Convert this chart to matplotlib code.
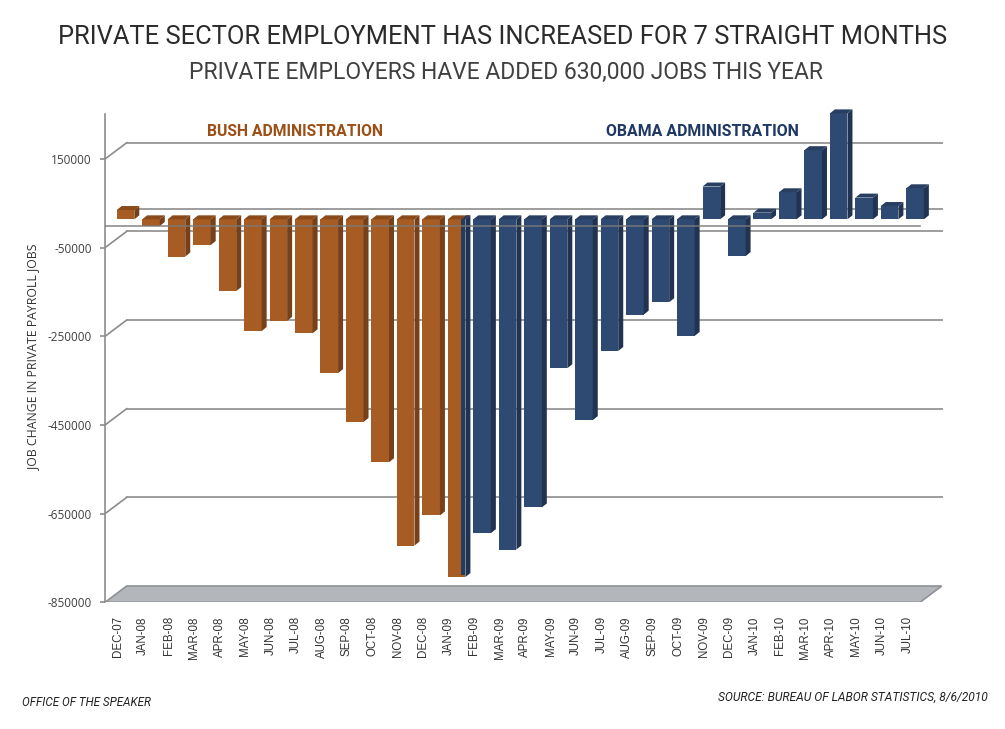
import matplotlib
matplotlib.use("Agg")
import matplotlib.pyplot as plt
from matplotlib.patches import Polygon
import numpy as np

# data (thousands of jobs)
months = ['DEC-07', 'JAN-08', 'FEB-08', 'MAR-08', 'APR-08', 'MAY-08', 'JUN-08', 'JUL-08',
          'AUG-08', 'SEP-08', 'OCT-08', 'NOV-08', 'DEC-08', 'JAN-09', 'FEB-09', 'MAR-09',
          'APR-09', 'MAY-09', 'JUN-09', 'JUL-09', 'AUG-09', 'SEP-09', 'OCT-09', 'NOV-09',
          'DEC-09', 'JAN-10', 'FEB-10', 'MAR-10', 'APR-10', 'MAY-10', 'JUN-10', 'JUL-10']
bush_values = [21, -15, -84, -58, -162, -252, -229, -257, -347, -457, -548, -736, -668, -807]
obama_values = [-708, -745, -650, -336, -453, -297, -215, -187, -263, 74, -83,
                15, 61, 156, 239, 49, 30, 70]
yticks = [150000, -50000, -250000, -450000, -650000, -850000]

W, H = 1005, 729
fig = plt.figure(figsize=(W / 100, H / 100), dpi=100)

# plot area in pixels (front plane)
left_px, right_px, top_px, bot_px = 105, 942.7, 114, 602.3
px_x = 25.47      # pixels per category
px_y = 2256.0     # jobs per pixel
ymin = -850000
ymax = ymin + (bot_px - top_px) * px_y
xmin = -0.5
xmax = xmin + (right_px - left_px) / px_x

ax = fig.add_axes([left_px / W, 1 - bot_px / H, (right_px - left_px) / W, (bot_px - top_px) / H])
ax.set_xlim(xmin, xmax)
ax.set_ylim(ymin, ymax)

grid_c = '#8c8c8c'
# depth of the back wall
bx = 21.7 / px_x
by = 16.3 * px_y
for v in yticks[:-1]:
    ax.plot([xmin, xmin + bx], [v, v + by], color=grid_c, lw=1.2, zorder=1)
    ax.plot([xmin + bx, xmax], [v + by, v + by], color=grid_c, lw=1.2, zorder=1)
ax.plot([xmin + bx, xmax], [by, by], color=grid_c, lw=1.2, zorder=1)

# floor
n = len(months)
floor = Polygon([(xmin, ymin), (n - 0.5, ymin), (n - 0.5 + bx, ymin + by), (xmin + bx, ymin + by)],
                closed=True, facecolor='#b3b7bb', edgecolor='#8e9296', lw=1.2, zorder=1)
ax.add_patch(floor)

# bars with fake 3D depth
values = np.array(bush_values + obama_values) * 1000
x = np.arange(n)
bw = 17.6 / px_x
x_left = x - 0.5 + 11.7 / px_x
base = 6.2 * px_y
dx = 5 / px_x
dy = 4 * px_y

bush_c = ('#a65c22', '#8a4a1a', '#75401a')
obama_c = ('#2e4a72', '#283f62', '#213350')
colors = [bush_c] * len(bush_values) + [obama_c] * len(obama_values)

bars = ax.bar(x_left, values, width=bw, bottom=base, align='edge',
              color=[c[0] for c in colors], lw=0, zorder=3)
for b in bars:
    b.set_clip_on(False)
for i in range(n):
    xl, xr = x_left[i], x_left[i] + bw
    y0, y1 = base, base + values[i]
    yt = max(y0, y1)
    side_c = colors[i][2]
    top_c = colors[i][1]
    if months[i] == 'JAN-09':
        side_c = '#1f3250'
    ax.add_patch(Polygon([(xr, y0), (xr + dx, y0 + dy), (xr + dx, y1 + dy), (xr, y1)],
                         closed=True, facecolor=side_c, lw=0, zorder=3, clip_on=False))
    ax.add_patch(Polygon([(xl, yt), (xl + dx, yt + dy), (xr + dx, yt + dy), (xr, yt)],
                         closed=True, facecolor=top_c, lw=0, zorder=3, clip_on=False))
    if months[i] == 'JAN-09':
        # hand-over month: navy strip on the right part of the bar
        xs = xr - 4 / px_x
        ax.add_patch(Polygon([(xs, y0), (xr, y0), (xr, y1 + 2 * px_y), (xs, y1 + 2 * px_y)],
                             closed=True, facecolor='#263c5e', lw=0, zorder=3.5))
        ax.add_patch(Polygon([(xs, yt), (xs + dx, yt + dy), (xr + dx, yt + dy), (xr, yt)],
                             closed=True, facecolor='#263c5e', lw=0, zorder=3.5))

# front zero line over the bars
ax.plot([xmin, n - 0.5], [0, 0], color='#7a7a7a', lw=1.2, alpha=0.85, zorder=5)

# axes styling
for s in ['top', 'right', 'bottom']:
    ax.spines[s].set_visible(False)
ax.spines['left'].set_color(grid_c)
ax.spines['left'].set_linewidth(1.2)
ax.set_yticks(yticks)
ax.set_yticklabels([str(v) for v in yticks], fontfamily='Open Sans', fontsize=8.5, color='#404040')
ax.tick_params(axis='y', length=3.6, width=1.2, color=grid_c, pad=6)
ax.set_xticks(x)
ax.set_xticklabels(months, rotation=90, fontfamily='Liberation Sans', fontsize=8.3, color='#333333')
ax.tick_params(axis='x', length=0, pad=10)
ax.patch.set_alpha(0)

def fx(px):
    return px / W

def fy(py):
    return 1 - py / H

renderer = fig.canvas.get_renderer()

def fit_text(px, py, s, width_px, **kw):
    # scale the font so the text spans the same width as in the chart
    t = fig.text(fx(px), fy(py), s, va='center', fontsize=10, **kw)
    w = t.get_window_extent(renderer).width
    t.set_fontsize(10 * width_px / w)
    return t

fit_text(503, 37, 'PRIVATE SECTOR EMPLOYMENT HAS INCREASED FOR 7 STRAIGHT MONTHS', 885,
         ha='center', family='Roboto', color='#2b2b2b')
fit_text(506, 72, 'PRIVATE EMPLOYERS HAVE ADDED 630,000 JOBS THIS YEAR', 633,
         ha='center', family='Roboto', color='#404040')
fit_text(295, 131, 'BUSH ADMINISTRATION', 176, ha='center', fontweight='bold',
         family='Roboto', color='#9c4f16')
fit_text(702, 132, 'OBAMA ADMINISTRATION', 192, ha='center', fontweight='bold',
         family='Roboto', color='#1f3864')
fig.text(fx(34), fy(357), 'JOB CHANGE IN PRIVATE PAYROLL JOBS', rotation=90,
         ha='center', va='center', fontsize=8.8, family='Open Sans', color='#333333')
fit_text(22, 703, 'OFFICE OF THE SPEAKER', 128, ha='left', style='italic',
         family='Roboto', color='#222222')
fit_text(988, 697, 'SOURCE: BUREAU OF LABOR STATISTICS, 8/6/2010', 270, ha='right',
         style='italic', family='Roboto', color='#222222')

fig.savefig('out.png', dpi=100)
